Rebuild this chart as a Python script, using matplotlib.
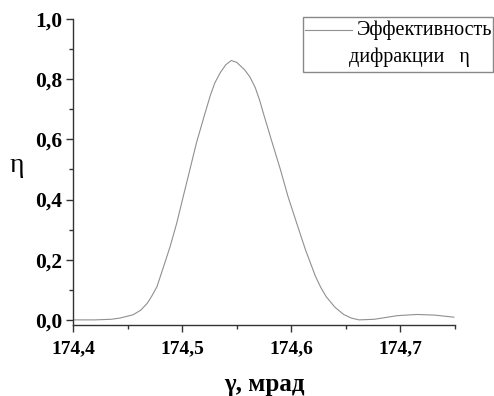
import matplotlib
matplotlib.use("Agg")
import matplotlib.pyplot as plt
from matplotlib.ticker import MultipleLocator, FuncFormatter
from matplotlib.lines import Line2D
from matplotlib.patches import Rectangle

gamma = [174.400, 174.420, 174.435, 174.443, 174.455, 174.462, 174.468, 174.472,
         174.477, 174.483, 174.489, 174.495, 174.501, 174.507, 174.513, 174.520,
         174.526, 174.530, 174.535, 174.540, 174.545, 174.550, 174.557, 174.562,
         174.567, 174.571, 174.574, 174.582, 174.590, 174.597, 174.605, 174.613,
         174.622, 174.627, 174.632, 174.640, 174.648, 174.655, 174.662, 174.676,
         174.697, 174.715, 174.731, 174.749]
eta = [0.000, 0.000, 0.002, 0.006, 0.017, 0.032, 0.055, 0.078,
       0.111, 0.177, 0.244, 0.321, 0.410, 0.498, 0.587, 0.675,
       0.748, 0.788, 0.822, 0.848, 0.862, 0.856, 0.832, 0.808,
       0.772, 0.730, 0.692, 0.595, 0.500, 0.410, 0.321, 0.233,
       0.146, 0.108, 0.077, 0.042, 0.018, 0.006, 0.000, 0.002,
       0.014, 0.018, 0.016, 0.009]

x_ticks = [174.4, 174.5, 174.6, 174.7]
y_ticks = [0.0, 0.2, 0.4, 0.6, 0.8, 1.0]
legend_line1 = "Эффективность"
legend_line2 = "дифракции   η"
x_label = "γ, мрад"
y_label = "η"

serif = ["Liberation Serif", "DejaVu Serif"]
plt.rcParams['font.family'] = serif

W, H = 494, 396
fig = plt.figure(figsize=(W/100, H/100), dpi=100)
ax = fig.add_axes([73/W, 1-325/H, (455-73)/W, (325-19)/H])

line_color = "#909090"
ax.plot(gamma, eta, color=line_color, lw=0.8)

ax.set_xlim(174.4, 174.75)
ax.set_ylim(-0.017, 1.0)
ax.set_xticks(x_ticks)
ax.set_yticks(y_ticks)
ax.xaxis.set_minor_locator(MultipleLocator(0.05))
ax.yaxis.set_minor_locator(MultipleLocator(0.1))
fmt = FuncFormatter(lambda v, p: f"{v:.1f}".replace(".", ","))
ax.xaxis.set_major_formatter(fmt)
ax.yaxis.set_major_formatter(fmt)

for s in ["top", "right"]:
    ax.spines[s].set_visible(False)
for s in ["left", "bottom"]:
    ax.spines[s].set_color("#333333")
    ax.spines[s].set_linewidth(1.0)

ax.tick_params(axis="both", which="major", direction="out", length=5, width=1,
               color="#333333")
ax.tick_params(axis="both", which="minor", direction="out", length=3, width=1,
               color="#333333")
ax.tick_params(axis="x", which="major", pad=6, labelsize=14)
ax.tick_params(axis="y", which="major", pad=3, labelsize=15.5)
for lab in ax.get_xticklabels() + ax.get_yticklabels():
    lab.set_fontweight("bold")

fig.text(264/W, 1-391/H, x_label, ha="center", va="baseline",
         fontsize=18, fontweight="bold", family=serif)
fig.text(17/W, 1-165/H, y_label, ha="center", va="center",
         fontsize=20, family=serif)

# legend box (drawn manually to match the two-line layout)
fig.add_artist(Rectangle((303/W, 1-72/H), (493-303)/W, (72-17)/H,
                         transform=fig.transFigure, facecolor="white",
                         edgecolor="#888888", lw=1.0))
fig.add_artist(Line2D([305/W, 352/W], [1-30/H, 1-30/H], transform=fig.transFigure,
                      color=line_color, lw=0.8))
fig.text(357/W, 1-30/H, legend_line1, ha="left", va="center", fontsize=14.5,
         family=serif)
fig.text(349/W, 1-57/H, legend_line2, ha="left", va="center", fontsize=14.5,
         family=serif)

fig.savefig("out.png", dpi=100)
